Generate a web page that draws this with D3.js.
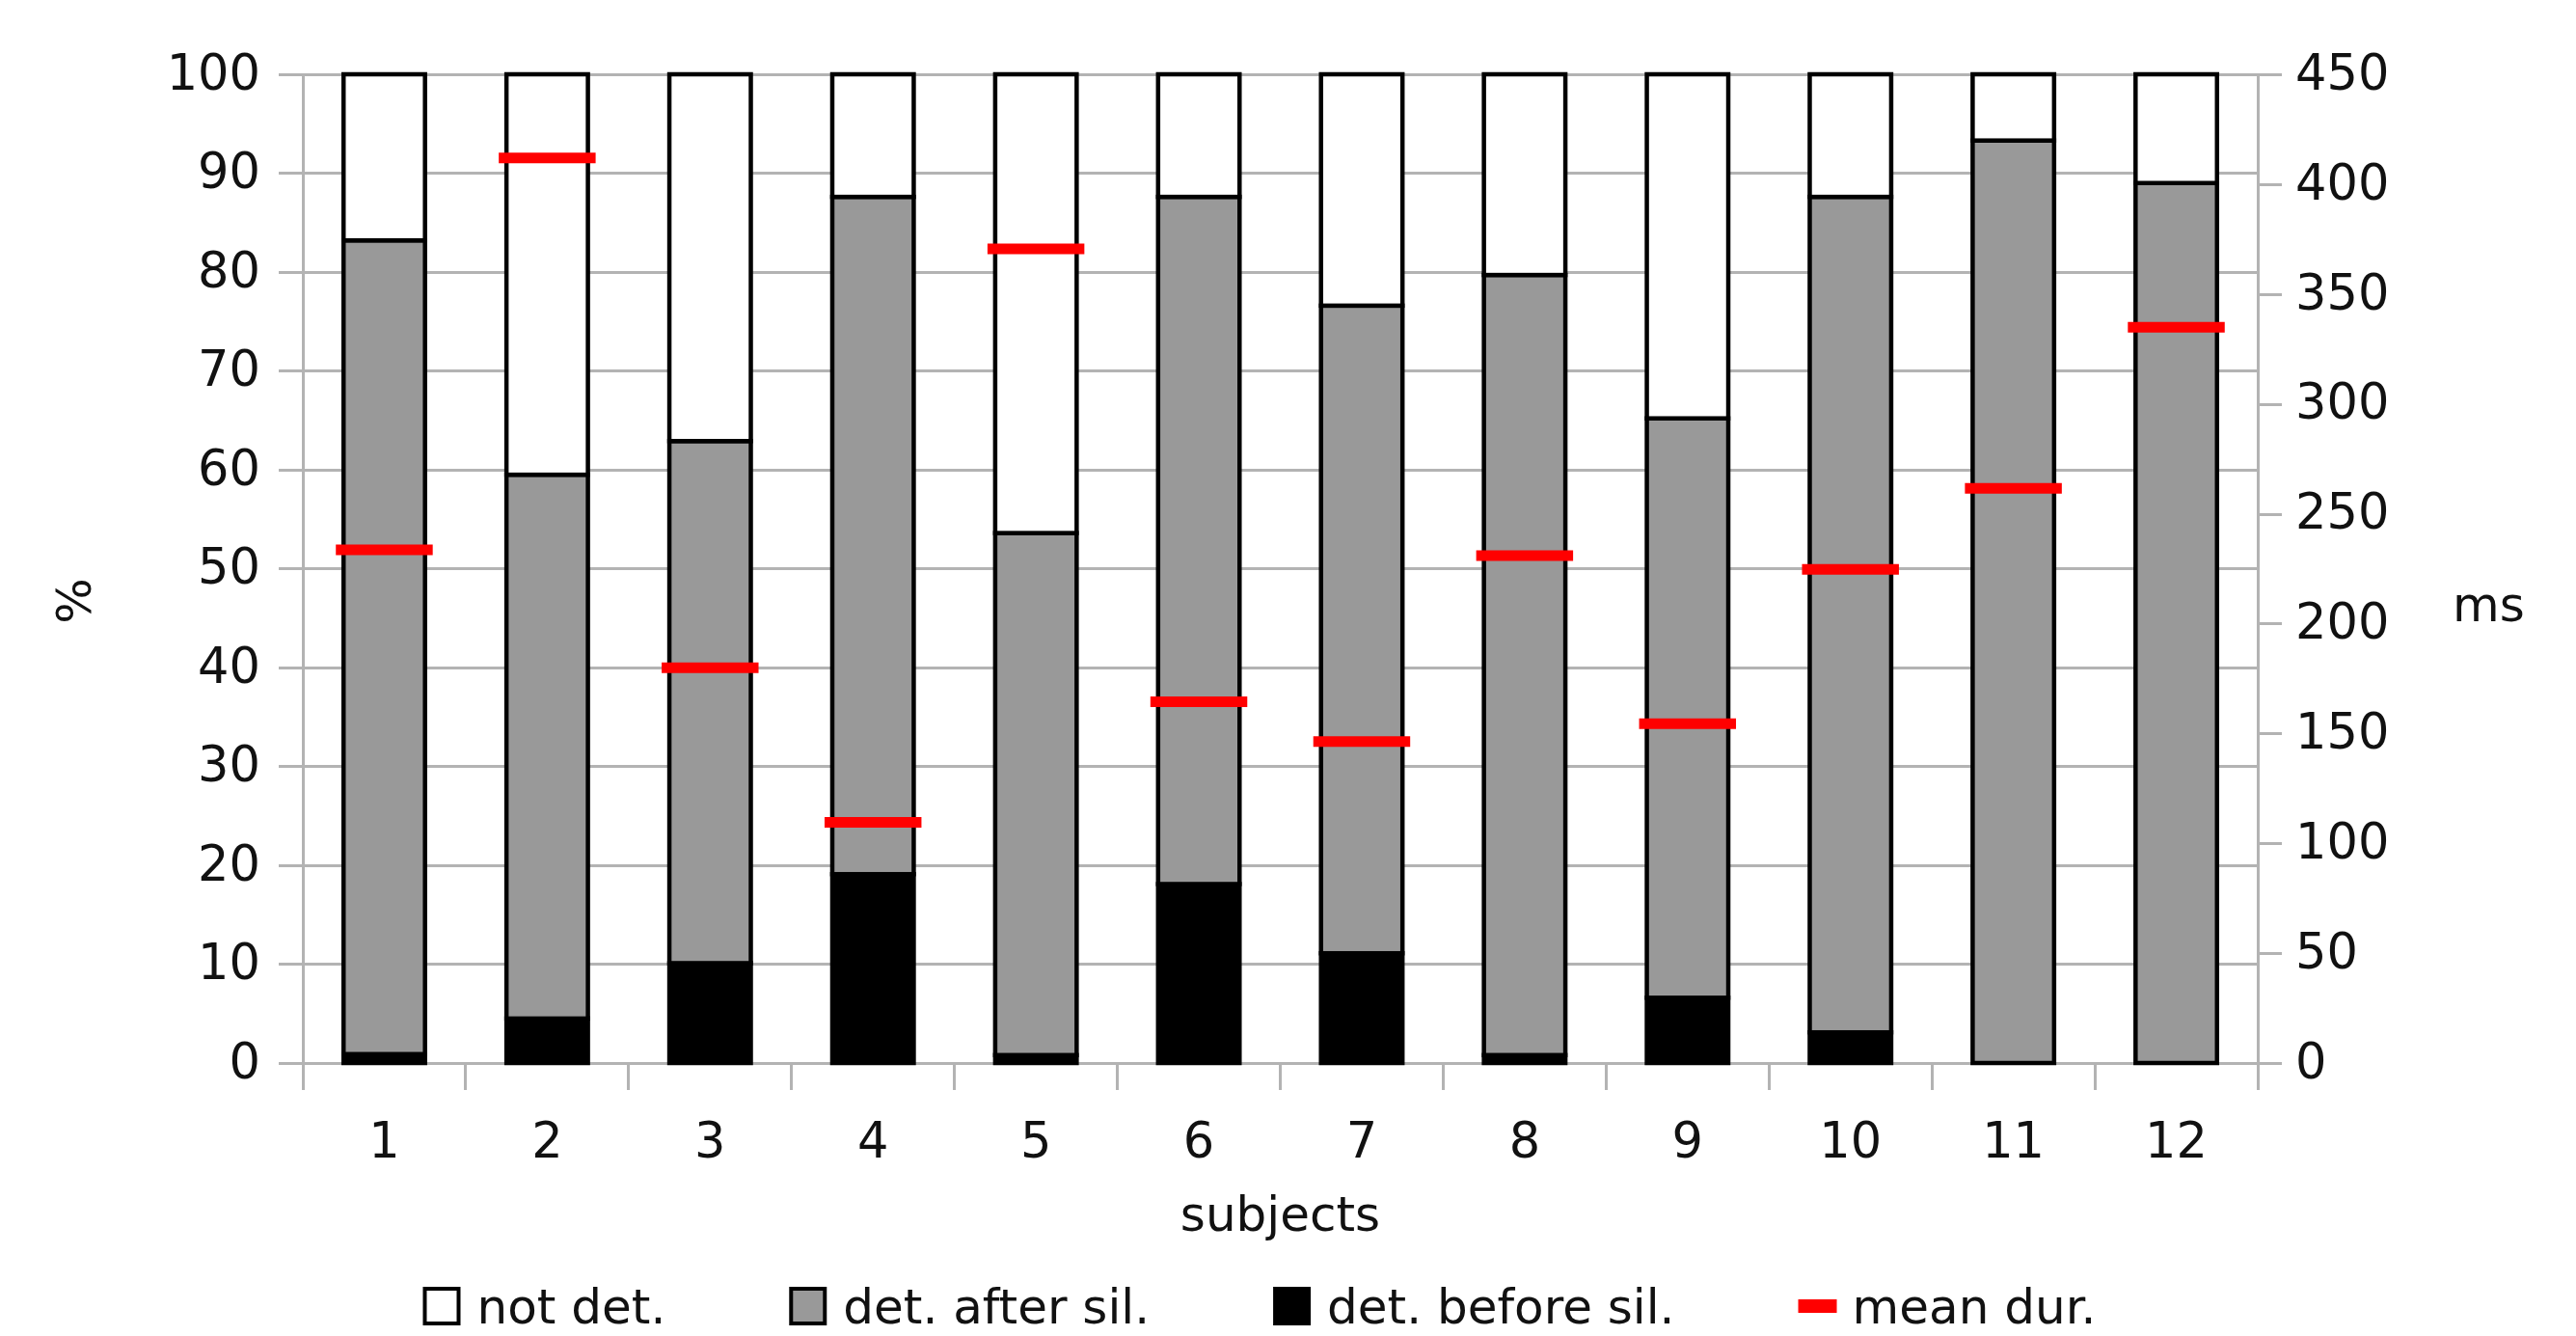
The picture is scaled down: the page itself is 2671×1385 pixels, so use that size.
<!DOCTYPE html>
<html>
<head>
<meta charset="utf-8">
<script src="https://cdn.jsdelivr.net/npm/d3@7"></script>
<style>
  body { margin: 0; background: #fff; }
  text { font-family: "DejaVu Sans", sans-serif; fill: #111; }
</style>
</head>
<body>
<svg id="chart" width="2671" height="1385"></svg>
<script>
// values
const subjects = ["1", "2", "3", "4", "5", "6", "7", "8", "9", "10", "11", "12"]
const detBefore = [0.9, 4.5, 10.1, 19.1, 0.8, 18.1, 11.1, 0.8, 6.6, 3.1, 0, 0]
const detAfter = [82.3, 55.0, 52.8, 68.5, 52.8, 69.5, 65.5, 78.9, 58.6, 84.5, 93.3, 89.0]
const notDet = [16.8, 40.5, 37.1, 12.4, 46.4, 12.4, 23.4, 20.3, 34.8, 12.4, 6.7, 11.0]
const meanDur = [233.6, 411.9, 179.9, 109.5, 370.5, 164.4, 146.3, 230.9, 154.4, 224.7, 261.5, 334.9]
const pctTicks = [0, 10, 20, 30, 40, 50, 60, 70, 80, 90, 100]
const msTicks = [0, 50, 100, 150, 200, 250, 300, 350, 400, 450]
const legendLabels = ["not det.", "det. after sil.", "det. before sil.", "mean dur."]

const keys = ["before", "after", "not"]
const colors = { before: "#000000", after: "#999999", not: "#ffffff" }
const gridColor = "#b3b3b3"

const svg = d3.select("#chart")
const margin = { top: 77, right: 330, bottom: 283, left: 314 }
const width = 2671 - margin.left - margin.right
const height = 1385 - margin.top - margin.bottom
const g = svg.append("g").attr("transform", "translate(" + margin.left + "," + margin.top + ")")

const rows = subjects.map((s, i) => ({ subject: s, before: detBefore[i], after: detAfter[i], not: notDet[i], dur: meanDur[i] }))

const x = d3.scaleBand().domain(subjects).range([0, width]).paddingInner(0.5).paddingOuter(0.25)
const y = d3.scaleLinear().domain([0, 100]).range([height, 0])
const y2 = d3.scaleLinear().domain([0, 450]).range([height, 0])

//--------- grid lines (extend out past left axis as ticks)
g.selectAll(".grid").data(pctTicks).join("line").attr("class", "grid")
  .attr("x1", -25).attr("x2", width).attr("y1", d => y(d)).attr("y2", d => y(d))
  .attr("stroke", gridColor).attr("stroke-width", 3).attr("shape-rendering", "crispEdges")

// category boundary ticks
const step = x.step()
g.selectAll(".catTick").data(d3.range(subjects.length + 1)).join("line").attr("class", "catTick")
  .attr("x1", d => d * step).attr("x2", d => d * step).attr("y1", height).attr("y2", height + 28)
  .attr("stroke", gridColor).attr("stroke-width", 3).attr("shape-rendering", "crispEdges")

// axis lines
g.selectAll(".axisLine").data([0, width]).join("line").attr("class", "axisLine")
  .attr("x1", d => d).attr("x2", d => d).attr("y1", 0).attr("y2", height + 28)
  .attr("stroke", gridColor).attr("stroke-width", 3).attr("shape-rendering", "crispEdges")

//--------- stacked bars
const series = d3.stack().keys(keys)(rows)
g.selectAll(".layer").data(series).join("g").attr("class", "layer")
  .attr("fill", d => colors[d.key])
  .selectAll("rect").data(d => d.filter(v => v[1] - v[0] > 0)).join("rect")
  .attr("x", d => x(d.data.subject)).attr("width", x.bandwidth())
  .attr("y", d => y(d[1])).attr("height", d => y(d[0]) - y(d[1]))
  .attr("stroke", "#000").attr("stroke-width", 4.5)

//--------- mean duration markers
g.selectAll(".dur").data(rows).join("line").attr("class", "dur")
  .attr("x1", d => x(d.subject) - 8).attr("x2", d => x(d.subject) + x.bandwidth() + 8)
  .attr("y1", d => y2(d.dur)).attr("y2", d => y2(d.dur))
  .attr("stroke", "#ff0000").attr("stroke-width", 11)

//--------- axes
const fs = 51
const leftAxis = g.append("g").call(d3.axisLeft(y).tickValues(pctTicks).tickSize(25).tickPadding(19))
leftAxis.select(".domain").remove()
leftAxis.selectAll("line").attr("stroke", "none")
leftAxis.selectAll("text").attr("font-size", fs).attr("font-family", "DejaVu Sans").attr("dy", "0.3em")

const rightAxis = g.append("g").attr("transform", "translate(" + width + ",0)")
  .call(d3.axisRight(y2).tickValues(msTicks).tickSize(25).tickPadding(14))
rightAxis.select(".domain").remove()
rightAxis.selectAll("line").attr("stroke", gridColor).attr("stroke-width", 3).attr("shape-rendering", "crispEdges")
rightAxis.selectAll("text").attr("font-size", fs).attr("font-family", "DejaVu Sans").attr("dy", "0.3em")

const bottomAxis = g.append("g").attr("transform", "translate(0," + height + ")")
  .call(d3.axisBottom(x).tickSize(0).tickPadding(62))
bottomAxis.select(".domain").remove()
bottomAxis.selectAll("text").attr("font-size", fs).attr("font-family", "DejaVu Sans")
svg.selectAll(".tick text").attr("fill", "#111")

//--------- axis titles
svg.append("text").attr("x", margin.left + width / 2).attr("y", 1276).attr("text-anchor", "middle")
  .attr("font-size", 50).text("subjects")
svg.append("text").attr("transform", "translate(94,623) rotate(-90)").attr("text-anchor", "middle")
  .attr("font-size", 50).text("%")
svg.append("text").attr("x", 2543).attr("y", 644).attr("font-size", 50).text("ms")

//--------- legend
const legend = svg.append("g")
const items = legend.selectAll(".item").data(legendLabels).join("g").attr("class", "item")
items.append("text").attr("x", 56).attr("y", 0).attr("font-size", 50).text(d => d)
items.each(function (d, i) {
  const it = d3.select(this)
  if (i < 3) {
    it.append("rect").attr("x", 2).attr("y", -36).attr("width", 35).attr("height", 36)
      .attr("fill", colors[keys[2 - i]]).attr("stroke", "#000").attr("stroke-width", 4)
  } else {
    it.append("line").attr("x1", 0).attr("x2", 40).attr("y1", -18).attr("y2", -18)
      .attr("stroke", "#ff0000").attr("stroke-width", 14)
  }
})
const gap = 128
let cx = 0
const offsets = []
items.each(function () {
  offsets.push(cx)
  cx += 56 + d3.select(this).select("text").node().getComputedTextLength() + gap
})
const total = cx - gap
items.attr("transform", (d, i) => "translate(" + offsets[i] + ",0)")
legend.attr("transform", "translate(" + (1306 - total / 2) + ",1372)")
</script>
</body>
</html>
